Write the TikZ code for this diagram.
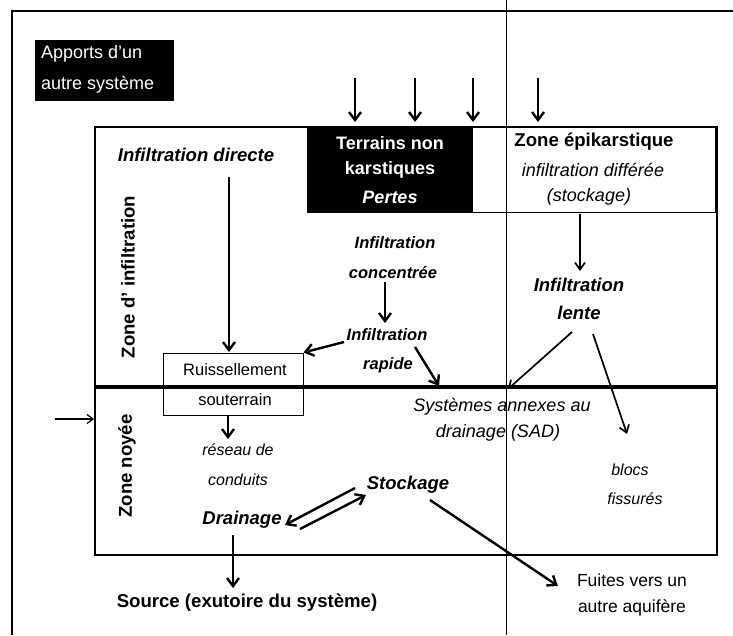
\documentclass[tikz,border=0pt]{standalone}
\usepackage{fontspec}
\setmainfont{Liberation Sans}
\usetikzlibrary{arrows.meta}
\begin{document}
\begin{tikzpicture}[x=1pt,y=-1pt,
  bi/.style={font=\fontsize{18.5}{20}\selectfont\bfseries\itshape, inner sep=0pt},
  bis/.style={font=\fontsize{16.5}{18}\selectfont\bfseries\itshape, inner sep=0pt},
  bu/.style={font=\fontsize{18.6}{20}\selectfont\bfseries, inner sep=0pt},
  it/.style={font=\fontsize{18}{20}\selectfont\itshape, inner sep=0pt},
  its/.style={font=\fontsize{16}{18}\selectfont\itshape, inner sep=0pt},
  rg/.style={font=\fontsize{17.5}{19}\selectfont, inner sep=0pt},
  wt/.style={font=\fontsize{18}{19}\selectfont, text=white, inner sep=0pt},
  frame/.style={line width=1.4pt},
  arr/.style={-{Straight Barb[length=8pt,width=12pt]}, line width=2.4pt},
  arrt/.style={-{Straight Barb[length=7pt,width=10pt]}, line width=1.7pt},
]
\useasboundingbox (0,0) rectangle (733,635);
% outer frame and separator
\coordinate (otl) at (12,11);
\coordinate (otr) at (733,11);
\coordinate (obl) at (12,635);
\draw[frame] (obl) -- (otl) -- (otr);
\coordinate (vt) at (506,0);
\coordinate (vb) at (506,635);
\draw[line width=0.8pt] (vt) -- (vb);

% Apports box
\node[fill=black, draw=black, minimum width=138pt, minimum height=60pt, inner sep=0pt] (apports) at (104,70) {};
\node[wt, anchor=west] (ap1) at (41,54) {Apports d'un};
\node[wt, anchor=west] (ap2) at (41,85) {autre système};

% main box
\draw[line width=1.2pt] (95,127) rectangle (717,555);
\node[fill=black, draw=black, minimum width=165pt, minimum height=85pt, inner sep=0pt] (terr) at (390,169.5) {};
\node[font=\fontsize{18}{19}\selectfont\bfseries, text=white, inner sep=0pt] (t1) at (390,143) {Terrains non};
\node[font=\fontsize{18}{19}\selectfont\bfseries, text=white, inner sep=0pt] (t2) at (390,170) {karstiques};
\node[font=\fontsize{18}{19}\selectfont\bfseries\itshape, text=white, inner sep=0pt] (t3) at (390,197) {Pertes};
\node[draw, line width=1pt, minimum width=243pt, minimum height=85pt, inner sep=0pt] (epi) at (593.5,169.5) {};
\node[bu] (e1) at (594,142) {Zone épikarstique};
\node[it] (e2) at (593,170) {infiltration différée};
\node[it] (e3) at (589,197) {(stockage)};

% top arrows
\foreach \x/\n in {355/a,415/b,473/c,538/d}{
  \coordinate (top\n) at (\x,78);
  \coordinate (bot\n) at (\x,122);
  \draw[arr] (top\n) -- (bot\n);
}

% infiltration zone
\node[bu, rotate=90] (zi) at (128,277) {Zone d' infiltration};
\node[bi] (idir) at (196,155) {Infiltration directe};
\node[draw, fill=white, line width=1pt, minimum width=140pt, minimum height=62pt, inner sep=0pt] (ruis) at (233,384) {};
\node[font=\fontsize{16.5}{18}\selectfont, inner sep=0pt] (r1) at (235,370) {Ruissellement};
\node[font=\fontsize{16.5}{18}\selectfont, inner sep=0pt] (r2) at (235,400) {souterrain};
\coordinate (idirs) at (229,177);
\coordinate (idire) at (229,352);
\draw[arr] (idirs) -- (idire);

\node[bis] (ic1) at (395,243) {Infiltration};
\node[bis] (ic2) at (393,273) {concentrée};
\coordinate (ics) at (385,282);
\coordinate (ice) at (385,323);
\draw[arr] (ics) -- (ice);
\node[bis] (ir1) at (387,335) {Infiltration};
\node[bis] (ir2) at (388,365) {rapide};
\coordinate (irs1) at (344,342);
\draw[arr] (irs1) -- (ruis.north east);
\coordinate (irs2) at (415,347);
\coordinate (ire2) at (439,386);
\draw[arr] (irs2) -- (ire2);

\node[bi] (il1) at (579,285) {Infiltration};
\node[bi] (il2) at (579,313) {lente};
\coordinate (epis) at (580,214);
\coordinate (epie) at (580,271);
\draw[arrt] (epis) -- (epie);
\coordinate (ils1) at (572,332);
\coordinate (ile1) at (508,389);
\draw[arrt] (ils1) -- (ile1);
\coordinate (ils2) at (593,334);
\coordinate (ile2) at (627,434);
\draw[arrt] (ils2) -- (ile2);

% thick water table line
\coordinate (wl) at (95,387);
\coordinate (wr) at (717,387);
\draw[line width=4pt] (wl) -- (wr);

% saturated zone
\node[bu, rotate=90] (zn) at (127,466) {Zone noyée};
\coordinate (las) at (55,419);
\coordinate (lae) at (94,419);
\draw[-{Straight Barb[length=6pt,width=9pt]}, line width=1.2pt] (las) -- (lae);
\coordinate (rse) at (228,439);
\draw[arr] (ruis.south -| rse) -- (rse);
\node[its] (rc1) at (238,450) {réseau de};
\node[its] (rc2) at (238,480) {conduits};
\node[it] (sad1) at (502,407) {Systèmes annexes au};
\node[it] (sad2) at (498,433) {drainage (SAD)};
\node[its] (bf1) at (630,470) {blocs};
\node[its] (bf2) at (635,499) {fissurés};

\node[bi] (drain) at (242,520) {Drainage};
\node[bi] (stock) at (408,485) {Stockage};
\coordinate (sd1) at (355,488);
\coordinate (sd2) at (285,525);
\draw[arr] (sd1) -- (sd2);
\coordinate (ds1) at (300,529);
\coordinate (ds2) at (366,495);
\draw[arr] (ds1) -- (ds2);
\coordinate (dss) at (233,535);
\coordinate (dse) at (233,588);
\draw[arr] (dss) -- (dse);
\node[bu] (src) at (247,603) {Source (exutoire du système)};
\coordinate (sfs) at (430,500);
\coordinate (sfe) at (558,586);
\draw[arr] (sfs) -- (sfe);
\node[rg] (f1) at (632,580) {Fuites vers un};
\node[rg] (f2) at (632,608) {autre aquifère};
\end{tikzpicture}
\end{document}
